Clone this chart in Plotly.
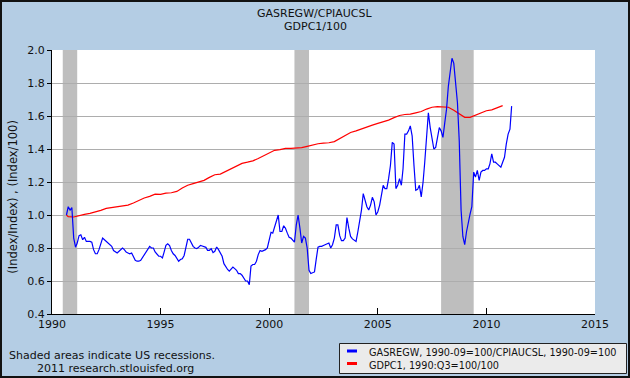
import pandas as pd
import plotly.graph_objects as go

# ---- data ----
gas_start = "1990-09-01"
gas_cpi = [
    1.00, 1.05, 1.03, 1.045,
    0.86, 0.805, 0.83, 0.875, 0.88, 0.85, 0.865, 0.84, 0.84, 0.84, 0.835, 0.79,
    0.765, 0.765, 0.79, 0.83, 0.86, 0.85, 0.84, 0.83, 0.825, 0.81, 0.785, 0.775,
    0.77, 0.78, 0.79, 0.80, 0.79, 0.775, 0.77, 0.765, 0.77, 0.75, 0.725, 0.72,
    0.72, 0.725, 0.74, 0.76, 0.775, 0.795, 0.81, 0.80, 0.80, 0.776, 0.765, 0.75,
    0.75, 0.74, 0.775, 0.816, 0.826, 0.815, 0.785, 0.765, 0.755, 0.74, 0.72, 0.73,
    0.735, 0.755, 0.795, 0.853, 0.853, 0.83, 0.81, 0.80, 0.796, 0.804, 0.816, 0.812,
    0.81, 0.804, 0.786, 0.786, 0.796, 0.772, 0.78, 0.806, 0.79, 0.765, 0.75, 0.705,
    0.685, 0.67, 0.66, 0.67, 0.685, 0.675, 0.665, 0.645, 0.645, 0.635, 0.62, 0.60,
    0.60, 0.578, 0.69, 0.70, 0.70, 0.72, 0.76, 0.785, 0.78, 0.785, 0.79, 0.80,
    0.84, 0.895, 0.89, 0.925, 0.955, 1.0, 0.90, 0.90, 0.935, 0.92, 0.89, 0.865,
    0.86, 0.85, 0.835, 0.94, 1.0, 0.92, 0.83, 0.87, 0.86, 0.80, 0.665, 0.645,
    0.648, 0.655, 0.73, 0.805, 0.81, 0.81, 0.815, 0.82, 0.825, 0.83, 0.80, 0.82,
    0.86, 0.94, 0.94, 0.875, 0.845, 0.845, 0.86, 0.985, 0.92, 0.87, 0.855, 0.845,
    0.84, 0.90, 0.965, 1.03, 1.13, 1.09, 1.05, 1.03, 1.06, 1.107, 1.08, 1.0,
    1.02, 1.06, 1.13, 1.18, 1.16, 1.16, 1.22, 1.30, 1.44, 1.43, 1.16, 1.18,
    1.22, 1.18, 1.28, 1.49, 1.49, 1.51, 1.54, 1.48, 1.30, 1.15, 1.155, 1.18,
    1.11, 1.20, 1.32, 1.50, 1.62, 1.53, 1.45, 1.40, 1.41, 1.47, 1.53, 1.51,
    1.47, 1.56, 1.64, 1.78, 1.87, 1.95, 1.92, 1.77, 1.68, 1.45, 1.03, 0.87,
    0.82, 0.90, 0.96, 1.005, 1.05, 1.26, 1.23, 1.27, 1.21, 1.26, 1.27, 1.27,
    1.28, 1.28, 1.31, 1.37, 1.32, 1.32, 1.31, 1.30, 1.29, 1.32, 1.35, 1.43,
    1.49, 1.52, 1.66,
]

gdp_first_date = "1990-09-01"
gdp_q_start = "1990-10-01"
gdp = [
    1.0,
    0.99,
    0.988, 0.998, 1.004, 1.01,
    1.018, 1.028, 1.04, 1.046,
    1.05, 1.055, 1.06, 1.073,
    1.09, 1.103, 1.113, 1.126,
    1.125, 1.133, 1.135, 1.143,
    1.164, 1.18, 1.19, 1.198,
    1.21, 1.228, 1.244, 1.248,
    1.265, 1.28, 1.297, 1.313,
    1.32, 1.328, 1.342, 1.36,
    1.376, 1.392, 1.396, 1.404,
    1.404, 1.406, 1.408, 1.416,
    1.426, 1.432, 1.436, 1.438,
    1.445, 1.463, 1.483, 1.50,
    1.51, 1.523, 1.535, 1.545,
    1.555, 1.563, 1.575, 1.59,
    1.603, 1.609, 1.611, 1.619,
    1.627, 1.642, 1.653, 1.657,
    1.657, 1.653, 1.635, 1.614,
    1.592, 1.592, 1.604, 1.618,
    1.632, 1.637, 1.648, 1.663,
]

recession_starts = ["1990-07-01", "2001-03-01", "2007-12-01"]
recession_ends = ["1991-03-01", "2001-11-01", "2009-06-01"]

x_ticks = ["1990-01-01", "1995-01-01", "2000-01-01", "2005-01-01", "2010-01-01", "2015-01-01"]
x_tick_text = ["1990", "1995", "2000", "2005", "2010", "2015"]

title_lines = ["GASREGW/CPIAUCSL", "GDPC1/100"]
y_title = "(Index/Index) , (Index/100)"
legend_names = ["GASREGW, 1990-09=100/CPIAUCSL, 1990-09=100", "GDPC1, 1990:Q3=100/100"]
footnote_lines = ["Shaded areas indicate US recessions.", "2011 research.stlouisfed.org"]

# ---- build ----
gas_dates = pd.date_range(gas_start, periods=len(gas_cpi), freq="MS")
gdp_dates = [pd.Timestamp(gdp_first_date)] + list(
    pd.date_range(gdp_q_start, periods=len(gdp) - 1, freq="QS")
)

W, H = 630, 378
L, R, T, B = 52, 35, 50, 64
PW, PH = W - L - R, H - T - B


def px(xp):
    return (xp - L) / PW


def py(yp):
    return (H - B - yp) / PH


FONT = "DejaVu Sans"
BG = "#B4CDE4"

fig = go.Figure()
fig.add_trace(go.Scatter(x=gdp_dates, y=gdp, mode="lines",
                         line=dict(color="#FF0000", width=1.2), showlegend=False))
fig.add_trace(go.Scatter(x=gas_dates, y=gas_cpi, mode="lines",
                         line=dict(color="#0000FF", width=1.2), showlegend=False))

shapes = []
for s, e in zip(recession_starts, recession_ends):
    shapes.append(dict(type="rect", xref="x", yref="paper", x0=s, x1=e, y0=0, y1=1,
                       fillcolor="#BEBEBE", line=dict(width=0), layer="between"))

# legend box
shapes.append(dict(type="rect", xref="paper", yref="paper",
                   x0=px(339.5), x1=px(626.5), y0=py(373.5), y1=py(343.5),
                   fillcolor="#EBEBEB", line=dict(color="#222222", width=1), layer="above"))
shapes.append(dict(type="line", xref="paper", yref="paper",
                   x0=px(347), x1=px(357), y0=py(351), y1=py(351),
                   line=dict(color="#0000FF", width=3), layer="above"))
shapes.append(dict(type="line", xref="paper", yref="paper",
                   x0=px(347), x1=px(357), y0=py(363.5), y1=py(363.5),
                   line=dict(color="#FF0000", width=3), layer="above"))
# outer border
shapes.append(dict(type="rect", xref="paper", yref="paper",
                   x0=px(1), x1=px(629), y0=py(377), y1=py(1),
                   line=dict(color="#111111", width=2), fillcolor="rgba(0,0,0,0)", layer="above"))

annotations = [
    dict(text=title_lines[0], x=px(315), y=py(13.5), xref="paper", yref="paper",
         showarrow=False, xanchor="center", yanchor="middle",
         font=dict(family=FONT, size=11, color="#111111")),
    dict(text=title_lines[1], x=px(315), y=py(27), xref="paper", yref="paper",
         showarrow=False, xanchor="center", yanchor="middle",
         font=dict(family=FONT, size=11, color="#111111")),
    dict(text=y_title, x=px(12.7), y=py(197), xref="paper", yref="paper",
         showarrow=False, textangle=-90, xanchor="center", yanchor="middle",
         font=dict(family=FONT, size=11.5, color="#111111")),
    dict(text=footnote_lines[0], x=px(7), y=py(355.5), xref="paper", yref="paper",
         showarrow=False, xanchor="left", yanchor="middle",
         font=dict(family=FONT, size=11, color="#111111")),
    dict(text=footnote_lines[1], x=px(35), y=py(368.5), xref="paper", yref="paper",
         showarrow=False, xanchor="left", yanchor="middle",
         font=dict(family=FONT, size=11, color="#111111")),
    dict(text=legend_names[0], x=px(367), y=py(352.5), xref="paper", yref="paper",
         showarrow=False, xanchor="left", yanchor="middle",
         font=dict(family=FONT, size=9.7, color="#111111")),
    dict(text=legend_names[1], x=px(367), y=py(365), xref="paper", yref="paper",
         showarrow=False, xanchor="left", yanchor="middle",
         font=dict(family=FONT, size=9.7, color="#111111")),
]

fig.update_layout(
    width=W, height=H,
    margin=dict(l=L, r=R, t=T, b=B, pad=0),
    paper_bgcolor=BG, plot_bgcolor="#FFFFFF",
    showlegend=False,
    shapes=shapes, annotations=annotations,
    font=dict(family=FONT, size=11, color="#111111"),
)
fig.update_xaxes(
    type="date", range=["1990-01-01", "2015-01-01"],
    tickmode="array", tickvals=x_ticks, ticktext=x_tick_text,
    ticks="inside", ticklen=6, tickwidth=1, tickcolor="#000000",
    showline=True, linecolor="#000000", linewidth=1,
    showgrid=False, zeroline=False,
    tickfont=dict(family=FONT, size=11, color="#111111"),
)
fig.update_yaxes(
    range=[0.4, 2.0], dtick=0.2, tick0=0.4, tickformat=".1f",
    ticks="outside", ticklen=4, tickwidth=1, tickcolor="#000000",
    showline=True, linecolor="#000000", linewidth=1,
    showgrid=True, gridcolor="#ADADAD", gridwidth=1, zeroline=False,
    tickfont=dict(family=FONT, size=11, color="#111111"),
)

fig.write_html(
    "out.html",
    config={"displayModeBar": False},
    post_script="document.body.style.margin='0px';document.body.style.padding='0px';document.body.style.overflow='hidden';",
)
